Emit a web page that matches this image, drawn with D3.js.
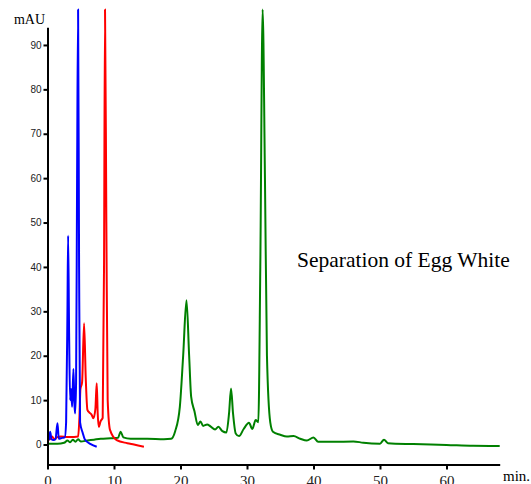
<!DOCTYPE html>
<html>
<head>
<meta charset="utf-8">
<script src="https://cdn.jsdelivr.net/npm/d3@7"></script>
<style>
  body { margin: 0; background: #fff; }
  svg { display: block; }
</style>
</head>
<body>
<div id="chart"></div>
<script>
// Chromatogram traces, [minutes, mAU]
const blueTrace = [
  [0.2, 1.0], [0.4, 2.9], [0.6, 1.2], [0.9, 1.0], [1.2, 1.2], [1.5, 4.8], [1.7, 1.3],
  [2.2, 1.5], [2.6, 1.6], [2.8, 5], [3.0, 30], [3.1, 47], [3.25, 25], [3.4, 10],
  [3.55, 12.5], [3.7, 8.5], [3.9, 17], [4.05, 9], [4.15, 7], [4.3, 14], [4.45, 60],
  [4.6, 98], [4.75, 40], [4.9, 5], [5.3, 2.6], [5.6, 1.2], [6.5, 0.1], [7.4, -0.5]
];

const redTrace = [
  [0.0, 1.0], [0.4, 1.2], [0.7, 1.8], [1.0, 1.2], [1.4, 1.6], [2.0, 1.8], [3.0, 1.7],
  [4.0, 1.7], [4.6, 1.8], [4.8, 6], [4.95, 12.5], [5.2, 14], [5.5, 27.3], [5.75, 15],
  [6.0, 7.8], [6.3, 7.2], [6.6, 6.8], [6.9, 5.9], [7.2, 8], [7.4, 13.8], [7.55, 7],
  [7.7, 4], [8.0, 5.3], [8.3, 6], [8.5, 40], [8.65, 98], [8.85, 50], [9.05, 10],
  [9.4, 3.3], [10.4, 1.0], [12.0, 0.3], [13.0, 0.0], [14.5, -0.5]
];

const greenTrace = [
  [0.0, 0.2], [1.5, 0.2], [2.5, 0.4], [3.0, 0.9], [3.4, 0.5], [3.8, 1.1], [4.2, 0.6],
  [4.6, 1.2], [5.0, 0.7], [6.0, 0.9], [7.0, 1.1], [8.0, 1.3], [9.5, 1.4], [10.6, 1.5],
  [11.0, 2.9], [11.4, 1.6], [12.5, 1.3], [15.0, 1.3], [17.5, 1.2], [18.6, 1.3],
  [19.2, 3], [19.9, 8.5], [20.4, 20], [20.9, 32.5], [21.3, 20], [21.6, 10.8],
  [22.1, 7.5], [22.6, 4.4], [23.0, 5.2], [23.4, 4.2], [24.0, 4.5], [24.5, 4.1],
  [25.2, 3.4], [25.7, 4], [26.3, 3], [26.9, 2.7], [27.3, 7], [27.6, 12.6], [27.9, 7],
  [28.3, 2.5], [28.8, 1.9], [29.5, 3.5], [30.3, 4.9], [30.8, 3.5], [31.3, 5.5],
  [31.7, 5], [32.0, 40], [32.35, 98], [32.7, 60], [33.0, 20], [33.5, 5], [33.9, 2.9],
  [35.0, 2.2], [36.0, 1.8], [37.0, 1.9], [38.0, 1.3], [39.0, 0.9], [40.0, 1.6],
  [40.7, 0.6], [43.0, 0.6], [46.0, 0.7], [47.5, 0.4], [50.0, 0.2], [50.6, 1.1],
  [51.2, 0.3], [55.0, 0.1], [60.0, -0.1], [64.0, -0.3], [68.0, -0.35]
];

const series = [
  { name: "green", color: "#008000", points: greenTrace },
  { name: "red",   color: "#ff0000", points: redTrace },
  { name: "blue",  color: "#0000ff", points: blueTrace }
];

const xTicks = [0, 10, 20, 30, 40, 50, 60];
const yTicks = [0, 10, 20, 30, 40, 50, 60, 70, 80, 90];

const width = 531, height = 484;
const serif = "'Liberation Serif', 'Times New Roman', serif";
const sans = "'Liberation Sans', Arial, sans-serif";

const x = d3.scaleLinear().domain([0, 68]).range([47.5, 499.7]);
const y = d3.scaleLinear().domain([-4.5, 94]).range([464.5, 27.2]);

const svg = d3.select("#chart").append("svg")
  .attr("width", width)
  .attr("height", height);

const line = d3.line()
  .x(d => x(d[0]))
  .y(d => y(d[1]))
  .curve(d3.curveMonotoneX);

// traces
svg.append("g").attr("class", "traces")
  .selectAll("path")
  .data(series)
  .join("path")
    .attr("fill", "none")
    .attr("stroke", d => d.color)
    .attr("stroke-width", 2)
    .attr("stroke-linejoin", "round")
    .attr("d", d => line(d.points));

// y axis
const gY = svg.append("g")
  .attr("transform", `translate(${x(0)},0)`)
  .call(d3.axisLeft(y).tickValues(yTicks).tickSize(4).tickSizeOuter(0));
gY.select(".domain").attr("stroke", "#000").attr("stroke-width", 2);
gY.selectAll(".tick line").attr("stroke-width", 2);
gY.selectAll(".tick text")
  .attr("x", -6)
  .style("font-family", sans)
  .style("font-size", "10px")
  .attr("fill", "#222");

// x axis
const gX = svg.append("g")
  .attr("transform", `translate(0,${y(-4.5)})`)
  .call(d3.axisBottom(x).tickValues(xTicks).tickSize(5).tickSizeOuter(0));
gX.select(".domain").attr("stroke", "#000").attr("stroke-width", 2);
gX.selectAll(".tick line").attr("stroke-width", 2);
gX.selectAll(".tick text")
  .attr("y", 11)
  .attr("dy", "0.71em")
  .style("font-family", serif)
  .style("font-size", "15px")
  .attr("fill", "#222");

// labels
svg.append("text")
  .attr("x", 45).attr("y", 24)
  .attr("text-anchor", "end")
  .style("font-family", serif)
  .style("font-size", "14px")
  .text("mAU");

svg.append("text")
  .attr("x", 503).attr("y", 481)
  .style("font-family", serif)
  .style("font-size", "15px")
  .text("min.");

svg.append("text")
  .attr("x", 297).attr("y", 267)
  .style("font-family", serif)
  .style("font-size", "21.5px")
  .text("Separation of Egg White");
</script>
</body>
</html>
